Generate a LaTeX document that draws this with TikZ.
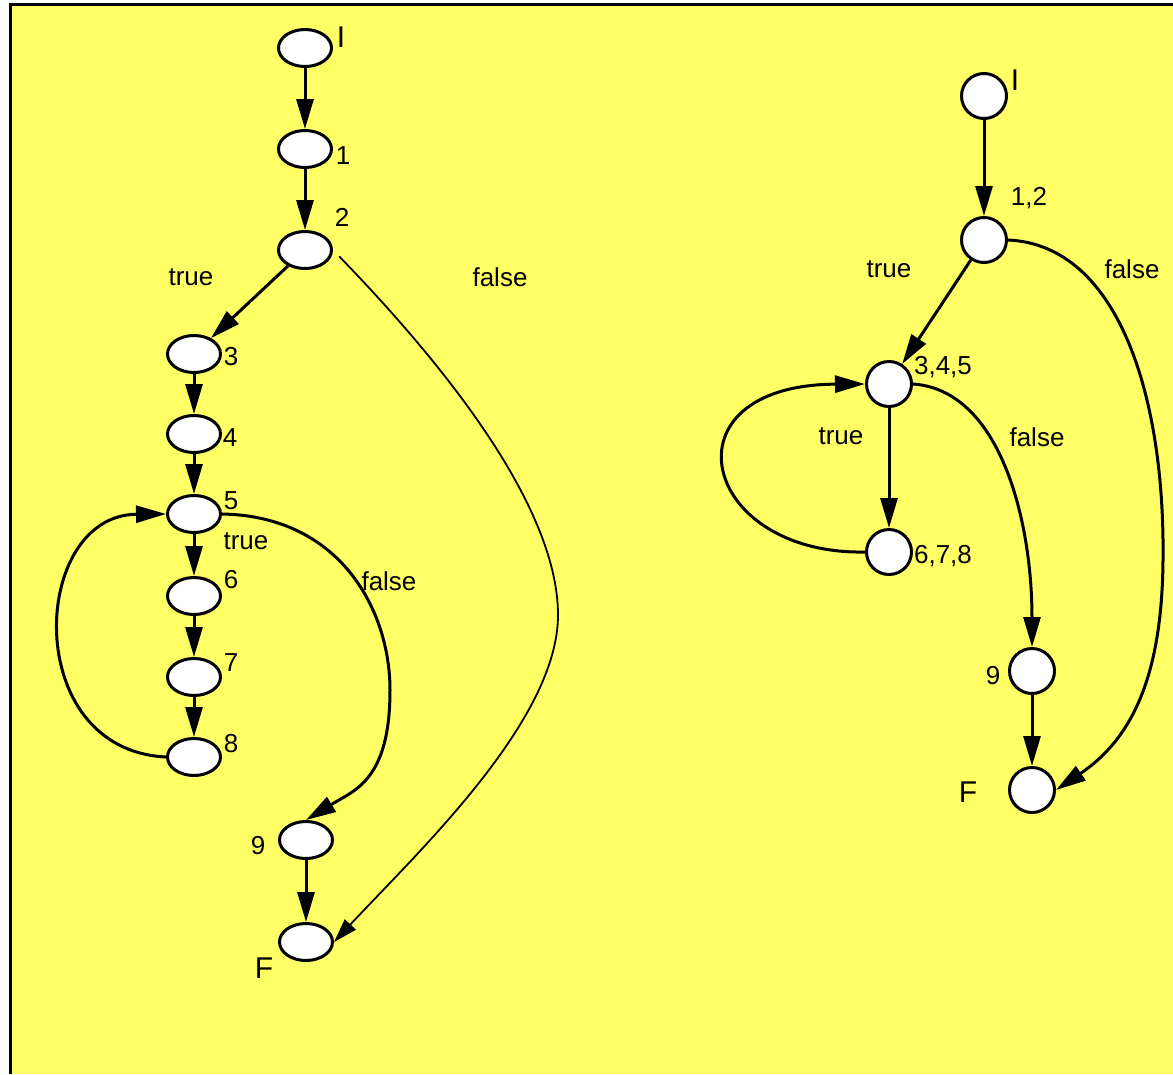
\documentclass[tikz,border=0pt]{standalone}
\usepackage{fontspec}
\setmainfont{Liberation Sans}
\usetikzlibrary{shapes,arrows.meta}
\definecolor{fondjaune}{RGB}{255,255,102}

\begin{document}
\begin{tikzpicture}[x=1pt,y=-1pt]
 % style des noeuds
  \tikzstyle{noeud}=[ellipse,draw,line width=3pt,fill=white,inner sep=0pt,minimum width=53pt,minimum height=37pt]
  \tikzstyle{rond}=[circle,draw,line width=3pt,fill=white,inner sep=0pt,minimum size=45pt]
  \tikzstyle{etiq}=[inner sep=0pt,font=\fontsize{26}{30}\selectfont]
  \tikzstyle{grand}=[inner sep=0pt,font=\fontsize{30}{34}\selectfont]
 % style des fleches
  \tikzstyle{fleche}=[-{Triangle[length=30pt,width=17pt]},line width=3pt]
  \tikzstyle{flechefine}=[-{Triangle[length=24pt,width=15pt]},line width=1.8pt]
 % fond
  \useasboundingbox (0,0) rectangle (1173,1074);
  \fill[fondjaune] (10,4) rectangle (1173,1074);
  \draw[line width=3pt] (10,1074) -- (10,4) -- (1173,4);
 % graphe de gauche
  \node[noeud] (debutG) at (305,48) {};
  \node[noeud] (n1) at (305,149) {};
  \node[noeud] (n2) at (305,250) {};
  \node[noeud] (n3) at (194,354) {};
  \node[noeud] (n4) at (194,434) {};
  \node[noeud] (n5) at (194,514) {};
  \node[noeud] (n6) at (194,596) {};
  \node[noeud] (n7) at (194,677) {};
  \node[noeud] (n8) at (194,757) {};
  \node[noeud] (n9) at (306,840) {};
  \node[noeud] (finG) at (306,942) {};
  \node[grand] (lIG) at (341,37) {I};
  \node[etiq] (l1) at (343,156) {1};
  \node[etiq] (l2) at (342,217) {2};
  \node[etiq] (l3) at (231,357) {3};
  \node[etiq] (l4) at (230,438) {4};
  \node[etiq] (l5) at (231,501) {5};
  \node[etiq] (l6) at (231,580) {6};
  \node[etiq] (l7) at (231,663) {7};
  \node[etiq] (l8) at (231,744) {8};
  \node[etiq] (l9) at (258,846) {9};
  \node[grand] (lFG) at (264,968) {F};
  \node[etiq] (vrai1) at (191,277) {true};
  \node[etiq] (faux1) at (500,277) {false};
  \node[etiq] (vrai2) at (246,541) {true};
  \node[etiq] (faux2) at (389,581) {false};
 % graphe de droite
  \node[rond] (debutD) at (984,96) {};
  \node[rond] (n12) at (984,240) {};
  \node[rond] (n345) at (889,384) {};
  \node[rond] (n678) at (889,552) {};
  \node[rond] (n9D) at (1032,671) {};
  \node[rond] (finD) at (1032,790) {};
  \node[grand] (lID) at (1015,80) {I};
  \node[etiq] (l12) at (1029,198) {1,2};
  \node[etiq] (l345) at (943,367) {3,4,5};
  \node[etiq] (l678) at (943,556) {6,7,8};
  \node[etiq] (l9D) at (993,676) {9};
  \node[grand] (lFD) at (968,792) {F};
  \node[etiq] (vrai3) at (889,269) {true};
  \node[etiq] (faux3) at (1132,269) {false};
  \node[etiq] (vrai4) at (841,436) {true};
  \node[etiq] (faux4) at (1037,437) {false};
 % fleches de gauche
  \draw[fleche] (debutG) -- (n1);
  \draw[fleche] (n1) -- (n2);
  \draw[fleche] (n2) -- (n3);
  \draw[flechefine,shorten <=9pt] (n2.east) .. controls (430,350) and (558,500) .. (558,615)
    .. controls (558,720) and (420,850) .. (finG.east);
  \draw[fleche] (n3) -- (n4);
  \draw[fleche] (n4) -- (n5);
  \draw[fleche] (n5) -- (n6);
  \draw[fleche] (n6) -- (n7);
  \draw[fleche] (n7) -- (n8);
  \draw[fleche] (n8.west) .. controls (20,750) and (30,515) .. (n5.west);
  \draw[fleche] (n5.east) .. controls (340,516) and (390,610) .. (390,690)
    .. controls (390,780) and (355,790) .. (n9.north);
  \draw[fleche] (n9) -- (finG);
 % fleches de droite
  \draw[fleche] (debutD) -- (n12);
  \draw[fleche] (n12) -- (n345);
  \draw[fleche] (n12.east) .. controls (1120,245) and (1165,400) .. (1163,560)
    .. controls (1162,680) and (1130,740) .. (finD.east);
  \draw[fleche] (n345) -- (n678);
  \draw[fleche] (n345.east) .. controls (1000,390) and (1032,520) .. (n9D.north);
  \draw[fleche] (n678.west) .. controls (700,555) and (660,385) .. (n345.west);
  \draw[fleche] (n9D) -- (finD);
\end{tikzpicture}
\end{document}
